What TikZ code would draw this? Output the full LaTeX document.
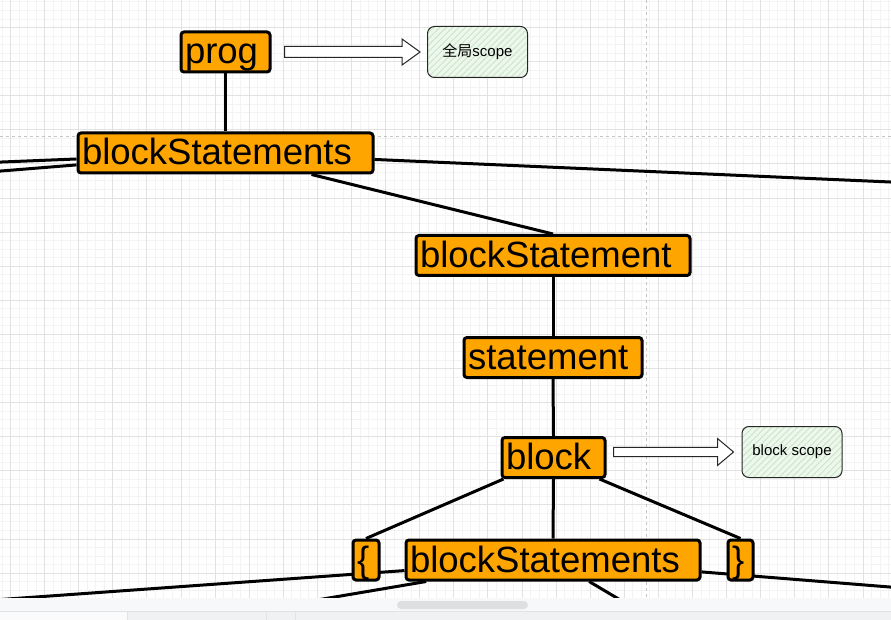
\documentclass[tikz,border=0pt]{standalone}
\usepackage{fontspec}
\setmainfont{Liberation Sans}
\newfontfamily\cjk{Noto Sans CJK SC}
\usetikzlibrary{calc,patterns.meta}
\definecolor{astfill}{HTML}{FFA500}
\definecolor{minorgrid}{HTML}{F3F3F3}
\definecolor{majorgrid}{HTML}{E2E2E2}
\definecolor{guide}{HTML}{C4C4C4}
\definecolor{scopefill}{HTML}{EEF7ED}
\definecolor{hatch}{HTML}{C8E6C4}
\definecolor{stripbg}{HTML}{F7F8F9}
\definecolor{thumbc}{HTML}{DEDFE1}
\definecolor{sepc}{HTML}{E2E3E5}
\definecolor{barA}{HTML}{FBFBFB}
\definecolor{barB}{HTML}{F0F1F3}
\pgfdeclarelayer{background}
\pgfdeclarelayer{edges}
\pgfdeclarelayer{foreground}
\pgfsetlayers{background,edges,main,foreground}
\tikzset{
  ast/.style={draw=black, line width=3pt, fill=astfill, rounded corners=3pt,
    anchor=north west, inner xsep=4pt, inner ysep=0pt, align=left,
    minimum height=40pt, text height=32pt, text depth=8pt,
    font=\fontsize{36.5}{36}\selectfont},
  edge/.style={draw=black, line width=3pt},
  scopebox/.style={draw=black!85, line width=1pt, rounded corners=7pt,
    preaction={fill=scopefill},
    pattern={Lines[angle=45,distance=4.5pt,line width=0.9pt]}, pattern color=hatch,
    minimum width=100pt, minimum height=51pt, inner sep=0pt,
    font=\fontsize{15}{18}\selectfont},
  blockarrow/.style={draw=black!85, fill=white, line width=1pt, line join=miter},
  minorline/.style={draw=minorgrid, line width=0.6pt},
  majorline/.style={draw=majorgrid, line width=0.6pt},
  guideline/.style={draw=guide, line width=0.7pt, dash pattern=on 3pt off 3pt}
}
\begin{document}
\begin{tikzpicture}[x=1pt,y=-1pt]
\useasboundingbox (0,0) rectangle (891,620);
% background grid
\begin{pgfonlayer}{background}
  \fill[white] (0,0) rectangle (891,620);
  \foreach \gx in {1.805,10.33,...,891} \draw[minorline] (\gx,0) -- (\gx,620);
  \foreach \gy in {1.755,10.28,...,620} \draw[minorline] (0,\gy) -- (891,\gy);
  \foreach \gx in {10.33,44.43,...,891} \draw[majorline] (\gx,0) -- (\gx,620);
  \foreach \gy in {27.33,61.43,...,620} \draw[majorline] (0,\gy) -- (891,\gy);
  \draw[guideline] (646.5,0) -- (646.5,598);
  \draw[guideline] (0,136.5) -- (891,136.5);
\end{pgfonlayer}

% tree nodes
\node[ast, text width=81pt]  (prog) at (179.5,30.5)  {prog};
\node[ast, text width=287pt] (bs1)  at (76.5,131.5)  {blockStatements};
\node[ast, text width=266pt] (bst)  at (414.5,234.0) {blockStatement};
\node[ast, text width=170pt] (stmt) at (462.5,336.0) {statement};
\node[ast, text width=95pt]  (blk)  at (500.5,436.0) {block};
\node[ast, text width=18pt]  (lb)   at (351.5,538.5) {\{};
\node[ast, text width=286pt] (bs2)  at (404.5,538.5) {blockStatements};
\node[ast, text width=17pt]  (rb)   at (726.5,538.5) {\}};

% scope boxes
\node[scopebox] (s1) at (477.5,52) {{\cjk 全局}scope};
\node[scopebox] (s2) at (792,452) {block scope};

% off-canvas ends of connectors
\coordinate (L1) at (-20,162.9);
\coordinate (L2) at (-20,172.7);
\coordinate (R1) at (911,182.9);
\coordinate (BL) at (-20,601);
\coordinate (BR) at (911,588.7);
\coordinate (D1) at (199,620);
\coordinate (D2) at (654,620);

% connectors
\begin{pgfonlayer}{edges}
  \draw[edge] (prog) -- (bs1);
  \draw[edge] (L1) -- (bs1);
  \draw[edge] (L2) -- (bs1);
  \draw[edge] (bs1) -- (R1);
  \draw[edge] ([xshift=86pt]bs1.south) -- (bst.north);
  \draw[edge] (bst.south) -- (stmt.north);
  \draw[edge] (stmt.south) -- (blk.north);
  \draw[edge] ([xshift=3pt]blk.south west) -- (lb.north);
  \draw[edge] (blk.south) -- (bs2.north);
  \draw[edge] ([xshift=-7pt]blk.south east) -- (rb.north);
  \draw[edge] (BL) -- (bs2);
  \draw[edge] (bs2) -- (BR);
  \draw[edge] (bs2) -- (D1);
  \draw[edge] (bs2) -- (D2);
\end{pgfonlayer}

% hollow block arrows
\draw[blockarrow] let \p1=([xshift=13pt]prog.east), \p2=([xshift=-7pt]s1.west) in
  (\x1,{\y2+5.5pt}) -- ({\x2-18pt},{\y2+5.5pt}) -- ({\x2-18pt},{\y2+13pt}) -- (\x2,\y2)
  -- ({\x2-18pt},{\y2-13pt}) -- ({\x2-18pt},{\y2-5.5pt}) -- (\x1,{\y2-5.5pt}) -- cycle;
\draw[blockarrow] let \p1=([xshift=7pt]blk.east), \p2=([xshift=-8pt]s2.west) in
  (\x1,{\y2+4.7pt}) -- ({\x2-16pt},{\y2+4.7pt}) -- ({\x2-16pt},{\y2+13.5pt}) -- (\x2,\y2)
  -- ({\x2-16pt},{\y2-13.5pt}) -- ({\x2-16pt},{\y2-4.7pt}) -- (\x1,{\y2-4.7pt}) -- cycle;

% bottom scrollbar strip
\begin{pgfonlayer}{foreground}
  \fill[stripbg] (0,597.5) rectangle (891,611.3);
  \fill[thumbc, rounded corners=4pt] (397,601) rectangle (528,609);
  \draw[sepc, line width=1pt] (0,611.5) -- (891,611.5);
  \fill[barA] (0,612) rectangle (127,620);
  \fill[barB] (127,612) rectangle (891,620);
  \draw[sepc, line width=0.8pt] (127,612) -- (127,620);
  \draw[sepc, line width=0.8pt] (266.7,612) -- (266.7,620);
  \draw[sepc, line width=0.8pt] (295.3,612) -- (295.3,620);
\end{pgfonlayer}
\end{tikzpicture}
\end{document}
